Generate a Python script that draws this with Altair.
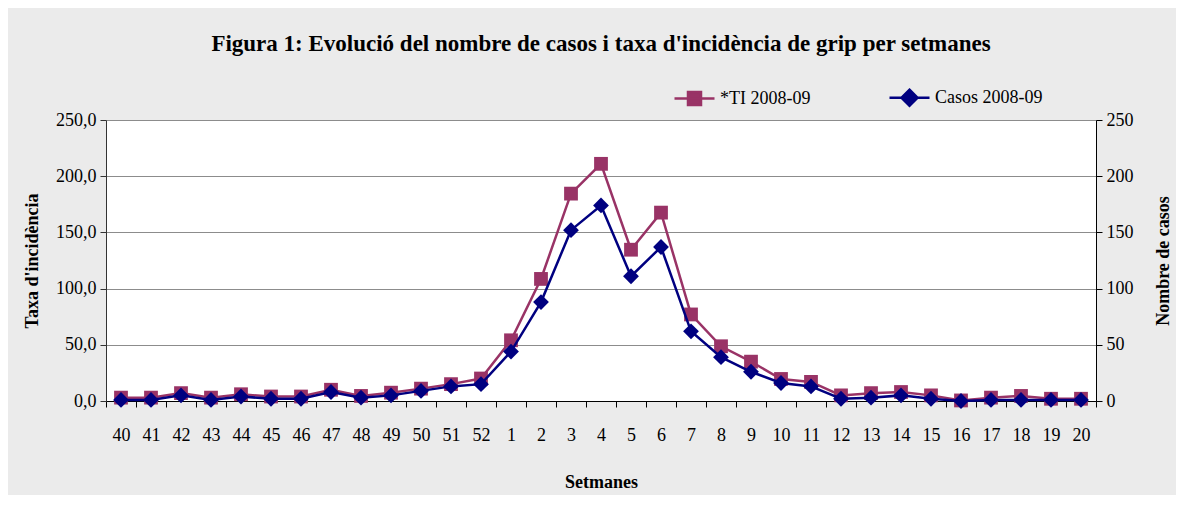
import altair as alt
import pandas as pd

weeks = ["40", "41", "42", "43", "44", "45", "46", "47", "48", "49", "50", "51", "52",
         "1", "2", "3", "4", "5", "6", "7", "8", "9", "10", "11", "12", "13", "14",
         "15", "16", "17", "18", "19", "20"]
ti_values = [3, 3, 7, 3, 6, 4, 4, 10, 4.5, 7.4, 11, 15, 20,
             54, 108.6, 184.5, 211, 134.6, 167.6, 77, 48.7, 35, 19.6, 17, 5, 7, 8,
             5, 0.5, 3, 4.5, 2, 2]
casos_values = [1, 1, 5, 1, 4, 2, 2, 8, 3, 5, 9, 13, 15,
                44, 88, 152, 174, 111, 137, 62, 39, 26, 16, 13, 2, 3, 5,
                2, 0, 1, 1, 1, 1]
series_names = ["*TI 2008-09", "Casos 2008-09"]
series_colors = ["#993366", "#000080"]
legend_shapes = ["M-2,0H2M-0.65,-0.65H0.65V0.65H-0.65Z",
                 "M-2,0H2M0,-0.8L0.8,0L0,0.8L-0.8,0Z"]

df_ti = pd.DataFrame({"setmana": weeks, "valor": ti_values, "serie": series_names[0]})
df_casos = pd.DataFrame({"setmana": weeks, "valor": casos_values, "serie": series_names[1]})
df_all = pd.concat([df_ti, df_casos], ignore_index=True)

FONT = "Liberation Serif"
TICKS = [0, 50, 100, 150, 200, 250]

x_enc = alt.X("setmana:N", sort=weeks,
              scale=alt.Scale(type="band", paddingInner=0, paddingOuter=0),
              axis=alt.Axis(title="Setmanes", labelAngle=0, tickBand="extent",
                            labelPadding=19, titlePadding=29, tickSize=6,
                            domainColor="#000000", tickColor="#000000"))

y_left = alt.Y("valor:Q", scale=alt.Scale(domain=[0, 250]),
               axis=alt.Axis(title="Taxa d'incidència", values=TICKS,
                             labelExpr="replace(format(datum.value, '.1f'), '.', ',')",
                             grid=True, gridColor="#8c8c8c", gridWidth=1, tickSize=6,
                             labelPadding=4, titlePadding=14,
                             domainColor="#333333", tickColor="#333333"))

legend_def = alt.Legend(
    orient="none", legendX=577, legendY=-34, direction="horizontal", title=None,
    symbolSize=400, symbolStrokeWidth=2.5, labelOffset=14, columnPadding=73,
    labelFont=FONT, labelFontSize=18, labelColor="#000000")

ti_layer = alt.Chart(df_ti).mark_line(
    strokeWidth=2.5, color=series_colors[0],
    point=alt.OverlayMarkDef(shape="square", size=190, filled=True, opacity=1,
                             color=series_colors[0])
).encode(x=x_enc, y=y_left)

legend_layer = alt.Chart(df_all).mark_point(size=0, strokeWidth=2.5, opacity=1).encode(
    x=x_enc, y=y_left,
    fill=alt.Fill("serie:N", scale=alt.Scale(domain=series_names, range=series_colors),
                  legend=legend_def),
    stroke=alt.Stroke("serie:N", scale=alt.Scale(domain=series_names, range=series_colors),
                      legend=legend_def),
    shape=alt.Shape("serie:N", scale=alt.Scale(domain=series_names, range=legend_shapes),
                    legend=legend_def),
)

casos_layer = alt.Chart(df_casos).mark_line(
    strokeWidth=2.5, color=series_colors[1],
    point=alt.OverlayMarkDef(shape="diamond", size=250, filled=True, opacity=1,
                             color=series_colors[1])
).encode(
    x=x_enc,
    y=alt.Y("valor:Q", scale=alt.Scale(domain=[0, 250]),
            axis=alt.Axis(title="Nombre de casos", orient="right", values=TICKS,
                          titleAngle=270,
                          grid=False, tickSize=6, labelPadding=4, titlePadding=39,
                          domainColor="#000000", tickColor="#000000")),
)

left = alt.layer(ti_layer, legend_layer)

chart = alt.layer(left, casos_layer).resolve_scale(
    y="independent"
).properties(
    width=990, height=281,
    autosize=alt.AutoSizeParams(type="none"),
    padding={"left": 98, "top": 112, "right": 80, "bottom": 94},
    background="#ebebeb",
    title=alt.Title("Figura 1: Evolució del nombre de casos i taxa d'incidència de grip per setmanes",
                    font=FONT, fontSize=23, fontWeight="bold", color="#000000",
                    anchor="middle", offset=30),
).configure_view(
    fill="white", strokeOpacity=0
).configure_axis(
    labelFont=FONT, labelFontSize=18, labelColor="#000000",
    titleFont=FONT, titleFontSize=18, titleFontWeight="bold", titleColor="#000000",
)

chart.save("out.html", embed_options={"renderer": "svg", "actions": False})
